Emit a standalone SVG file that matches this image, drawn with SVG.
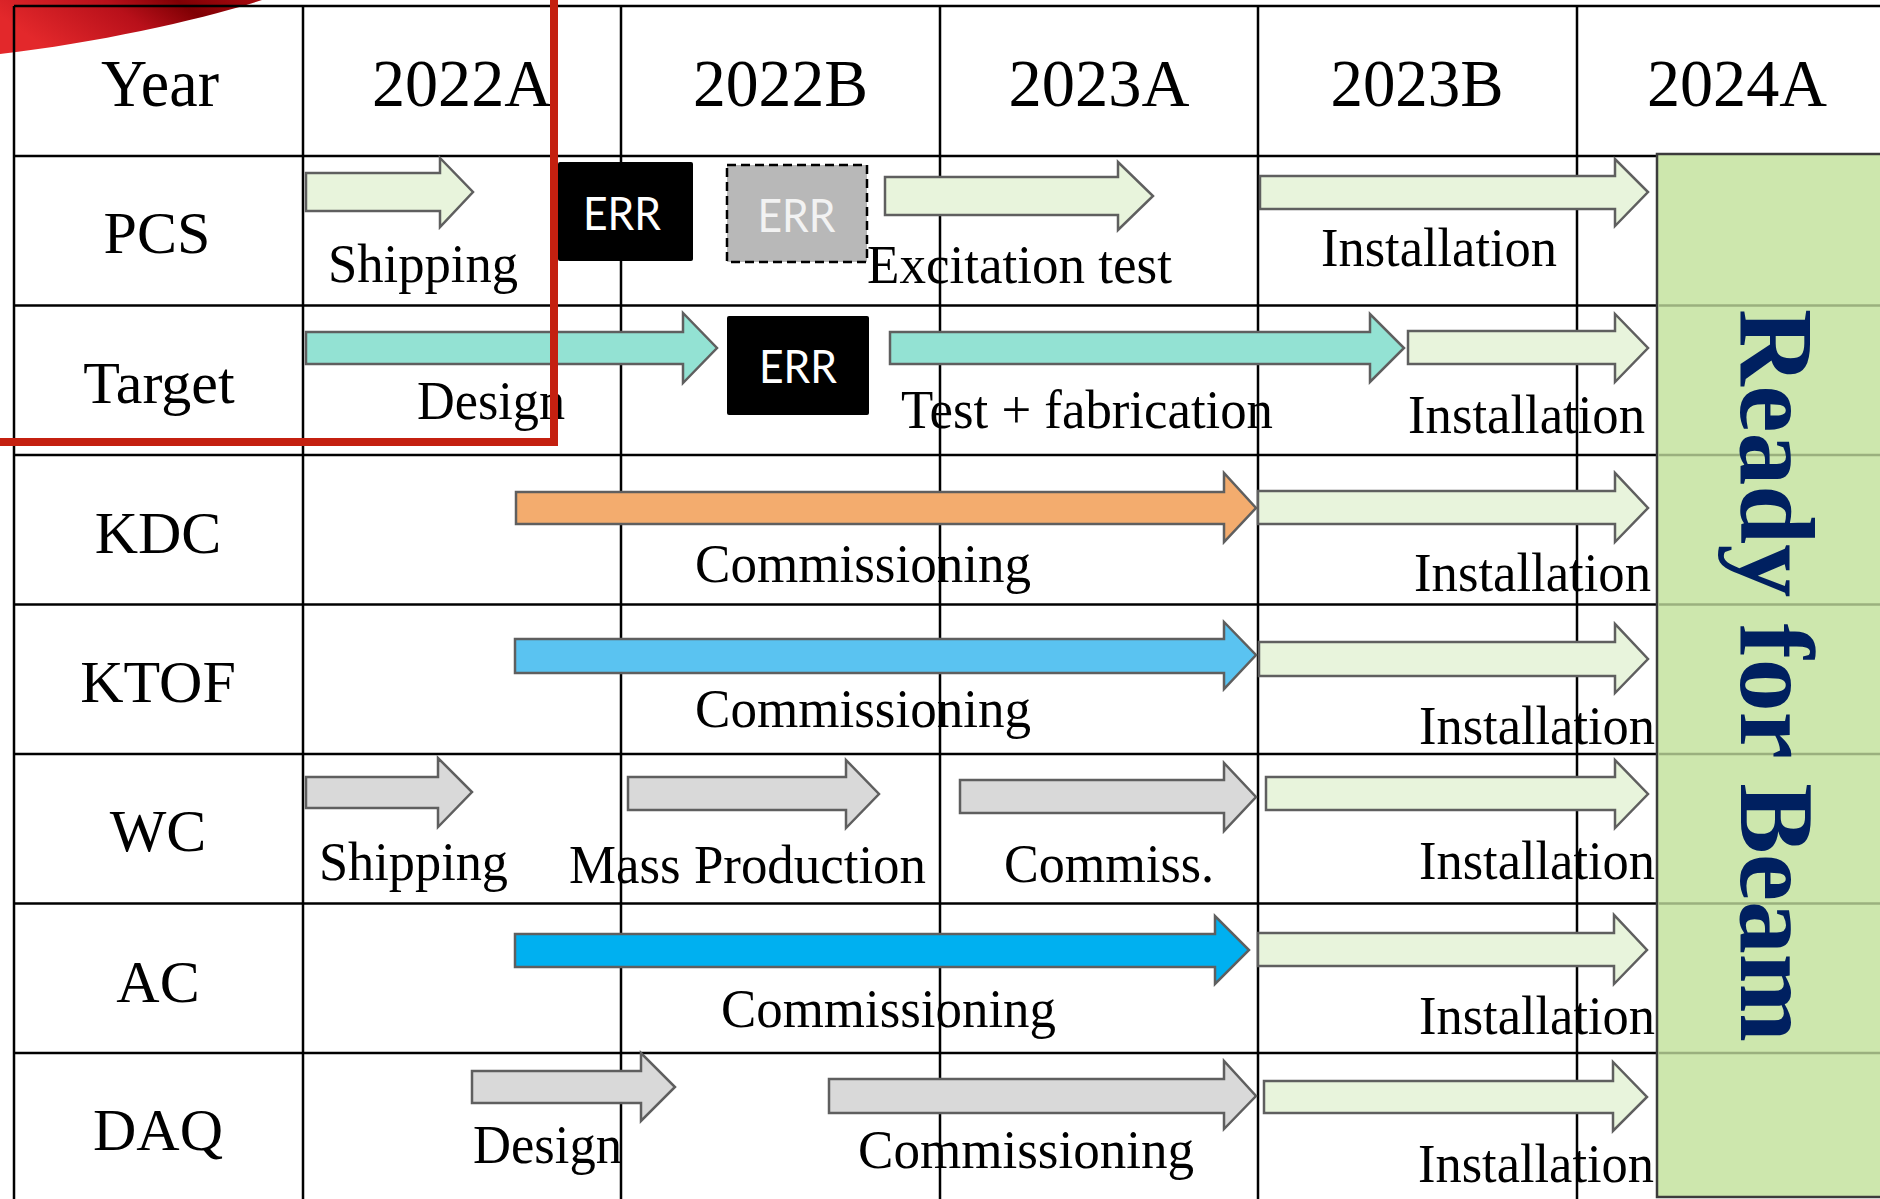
<svg xmlns="http://www.w3.org/2000/svg" width="1880" height="1199" viewBox="0 0 1880 1199">
<defs>
<linearGradient id="swoosh" x1="0" y1="0.3" x2="1" y2="0">
<stop offset="0" stop-color="#E3282B"/>
<stop offset="0.45" stop-color="#B8101A"/>
<stop offset="0.7" stop-color="#800004"/>
<stop offset="1" stop-color="#A80A10"/>
</linearGradient>
<style>
.grid line{stroke:#000;stroke-width:2.5}
.gl line{stroke:#9AB07E;stroke-width:2.5}
.arrow{stroke:#5F5F5F;stroke-width:2.5;stroke-linejoin:miter}
.lg{fill:#E8F4DC}
.teal{fill:#93E2D3}
.orange{fill:#F3AC6E}
.sky{fill:#5AC3F1}
.gray{fill:#D9D9D9}
.blue{fill:#00B0F0}
text{font-family:"Liberation Serif","Times New Roman",serif;fill:#000}
.lbl{font-size:54px}
.hdr{font-size:68px;text-anchor:middle}
.row{font-size:60px;text-anchor:middle}
.err{font-family:Lato,"Liberation Sans",Arial,sans-serif;font-weight:normal;font-size:46px;text-anchor:middle}
</style>
</defs>
<rect x="0" y="0" width="1880" height="1199" fill="#FFFFFF"/>
<path d="M0,0 H262 C200,20 100,42 0,54 Z" fill="url(#swoosh)"/>

<g id="grid" class="grid">
<line x1="14" y1="6" x2="1880" y2="6"/>
<line x1="14" y1="156" x2="1657" y2="156"/>
<line x1="14" y1="305.5" x2="1657" y2="305.5"/>
<line x1="14" y1="455" x2="1657" y2="455"/>
<line x1="14" y1="604.5" x2="1657" y2="604.5"/>
<line x1="14" y1="754" x2="1657" y2="754"/>
<line x1="14" y1="903.5" x2="1657" y2="903.5"/>
<line x1="14" y1="1053" x2="1657" y2="1053"/>
<line x1="14" y1="6" x2="14" y2="1199"/>
<line x1="303" y1="6" x2="303" y2="1199"/>
<line x1="621" y1="6" x2="621" y2="1199"/>
<line x1="940" y1="6" x2="940" y2="1199"/>
<line x1="1258" y1="6" x2="1258" y2="1199"/>
<line x1="1577" y1="6" x2="1577" y2="1199"/>
</g>

<g id="header">
<text class="hdr" x="160" y="106" textLength="118" lengthAdjust="spacingAndGlyphs">Year</text>
<text class="hdr" x="462" y="106" textLength="180" lengthAdjust="spacingAndGlyphs">2022A</text>
<text class="hdr" x="780.5" y="106" textLength="175" lengthAdjust="spacingAndGlyphs">2022B</text>
<text class="hdr" x="1099" y="106" textLength="181" lengthAdjust="spacingAndGlyphs">2023A</text>
<text class="hdr" x="1417" y="106" textLength="173" lengthAdjust="spacingAndGlyphs">2023B</text>
<text class="hdr" x="1737" y="106" textLength="180" lengthAdjust="spacingAndGlyphs">2024A</text>
</g>

<g id="rows">
<text class="row" x="157" y="253">PCS</text>
<text class="row" x="159" y="403">Target</text>
<text class="row" x="158" y="553">KDC</text>
<text class="row" x="158" y="702">KTOF</text>
<text class="row" x="158" y="851">WC</text>
<text class="row" x="158" y="1002">AC</text>
<text class="row" x="158" y="1150">DAQ</text>
</g>

<g id="ready">
<rect x="1657" y="154" width="240" height="1043" fill="#CDE7AD" stroke="#3C3C3C" stroke-width="2.5"/>
<g class="gl">
<line x1="1658.5" y1="305.5" x2="1880" y2="305.5"/>
<line x1="1658.5" y1="455" x2="1880" y2="455"/>
<line x1="1658.5" y1="604.5" x2="1880" y2="604.5"/>
<line x1="1658.5" y1="754" x2="1880" y2="754"/>
<line x1="1658.5" y1="903.5" x2="1880" y2="903.5"/>
<line x1="1658.5" y1="1053" x2="1880" y2="1053"/>
</g>
<text transform="translate(1741,675.5) rotate(90)" text-anchor="middle" font-size="106" font-weight="bold" style="fill:#002060" textLength="733" lengthAdjust="spacingAndGlyphs">Ready for Beam</text>
</g>

<g id="connectors"></g>

<g id="pcs-shipping">
<path class="arrow lg" d="M306,173 H440 V158 L473,192 L440,227 V211 H306 Z"/>
<text class="lbl" x="328" y="282" textLength="190" lengthAdjust="spacingAndGlyphs">Shipping</text>
</g>
<g id="pcs-err1">
<rect x="558" y="162" width="135" height="99" rx="2" fill="#000"/>
<text class="err" x="622" y="230" style="fill:#FFFFFF" textLength="78" lengthAdjust="spacingAndGlyphs">ERR</text>
</g>
<g id="pcs-err2">
<rect x="727" y="165" width="140" height="97" fill="#B8B8B8" stroke="#000" stroke-width="2.5" stroke-dasharray="9,5"/>
<text class="err" x="796.5" y="231.5" style="fill:#F2F2F2" textLength="78" lengthAdjust="spacingAndGlyphs">ERR</text>
</g>
<g id="pcs-excitation">
<path class="arrow lg" d="M885,177 H1118 V162 L1153,196 L1118,230 V215 H885 Z"/>
<text class="lbl" x="867" y="283" textLength="305" lengthAdjust="spacingAndGlyphs">Excitation test</text>
</g>
<g id="pcs-installation">
<path class="arrow lg" d="M1260,176 H1615 V159 L1648,192 L1615,226 V209 H1260 Z"/>
<text class="lbl" x="1321" y="266" textLength="236" lengthAdjust="spacingAndGlyphs">Installation</text>
</g>

<g id="target-design">
<path class="arrow teal" d="M306,332 H683 V313 L717,348 L683,383 V364 H306 Z"/>
<text class="lbl" x="417" y="419" textLength="148" lengthAdjust="spacingAndGlyphs">Design</text>
</g>
<g id="target-err">
<rect x="727" y="316" width="142" height="99" rx="2" fill="#000"/>
<text class="err" x="798" y="383" style="fill:#FFFFFF" textLength="78" lengthAdjust="spacingAndGlyphs">ERR</text>
</g>
<g id="target-test">
<path class="arrow teal" d="M890,332 H1370 V314 L1404,348 L1370,382 V364 H890 Z"/>
<text class="lbl" x="901" y="428" textLength="372" lengthAdjust="spacingAndGlyphs">Test + fabrication</text>
</g>
<g id="target-installation">
<path class="arrow lg" d="M1408,331 H1615 V314 L1648,348 L1615,382 V364 H1408 Z"/>
<text class="lbl" x="1408" y="433" textLength="237" lengthAdjust="spacingAndGlyphs">Installation</text>
</g>

<g id="kdc-commissioning">
<path class="arrow orange" d="M516,492 H1224 V473 L1256,508 L1224,542 V524 H516 Z"/>
<text class="lbl" x="695" y="582" textLength="336" lengthAdjust="spacingAndGlyphs">Commissioning</text>
</g>
<g id="kdc-installation">
<path class="arrow lg" d="M1258,491 H1615 V473 L1648,508 L1615,542 V524 H1258 Z"/>
<text class="lbl" x="1414" y="591" textLength="237" lengthAdjust="spacingAndGlyphs">Installation</text>
</g>

<g id="ktof-commissioning">
<path class="arrow sky" d="M515,639 H1224 V622 L1256,655 L1224,689 V673 H515 Z"/>
<text class="lbl" x="695" y="727" textLength="336" lengthAdjust="spacingAndGlyphs">Commissioning</text>
</g>
<g id="ktof-installation">
<path class="arrow lg" d="M1259,642 H1615 V624 L1648,659 L1615,693 V676 H1259 Z"/>
<text class="lbl" x="1419" y="744" textLength="236" lengthAdjust="spacingAndGlyphs">Installation</text>
</g>

<g id="wc-shipping">
<path class="arrow gray" d="M306,777 H438 V758 L472,792 L438,827 V808 H306 Z"/>
<text class="lbl" x="319" y="880" textLength="189" lengthAdjust="spacingAndGlyphs">Shipping</text>
</g>
<g id="wc-mass">
<path class="arrow gray" d="M628,777 H846 V760 L879,794 L846,828 V810 H628 Z"/>
<text class="lbl" x="569" y="883" textLength="357" lengthAdjust="spacingAndGlyphs">Mass Production</text>
</g>
<g id="wc-commiss">
<path class="arrow gray" d="M960,780 H1224 V763 L1256,797 L1224,831 V813 H960 Z"/>
<text class="lbl" x="1004" y="882" textLength="210" lengthAdjust="spacingAndGlyphs">Commiss.</text>
</g>
<g id="wc-installation">
<path class="arrow lg" d="M1266,777 H1615 V760 L1648,794 L1615,828 V810 H1266 Z"/>
<text class="lbl" x="1419" y="879" textLength="236" lengthAdjust="spacingAndGlyphs">Installation</text>
</g>

<g id="ac-commissioning">
<path class="arrow blue" d="M515,934 H1215 V916 L1249,950 L1215,984 V967 H515 Z"/>
<text class="lbl" x="721" y="1027" textLength="335" lengthAdjust="spacingAndGlyphs">Commissioning</text>
</g>
<g id="ac-installation">
<path class="arrow lg" d="M1258,933 H1614 V915 L1647,950 L1614,984 V966 H1258 Z"/>
<text class="lbl" x="1419" y="1034" textLength="236" lengthAdjust="spacingAndGlyphs">Installation</text>
</g>

<g id="daq-design">
<path class="arrow gray" d="M472,1071 H641 V1053 L675,1087 L641,1121 V1103 H472 Z"/>
<text class="lbl" x="473" y="1163" textLength="149" lengthAdjust="spacingAndGlyphs">Design</text>
</g>
<g id="daq-commissioning">
<path class="arrow gray" d="M829,1079 H1224 V1061 L1256,1096 L1224,1129 V1113 H829 Z"/>
<text class="lbl" x="858" y="1168" textLength="336" lengthAdjust="spacingAndGlyphs">Commissioning</text>
</g>
<g id="daq-installation">
<path class="arrow lg" d="M1264,1081 H1613 V1062 L1647,1097 L1613,1131 V1113 H1264 Z"/>
<text class="lbl" x="1418" y="1182" textLength="236" lengthAdjust="spacingAndGlyphs">Installation</text>
</g>

<g id="highlight">
<path d="M-10,442 H554 V-10" fill="none" stroke="#C42010" stroke-width="8"/>
</g>
</svg>
